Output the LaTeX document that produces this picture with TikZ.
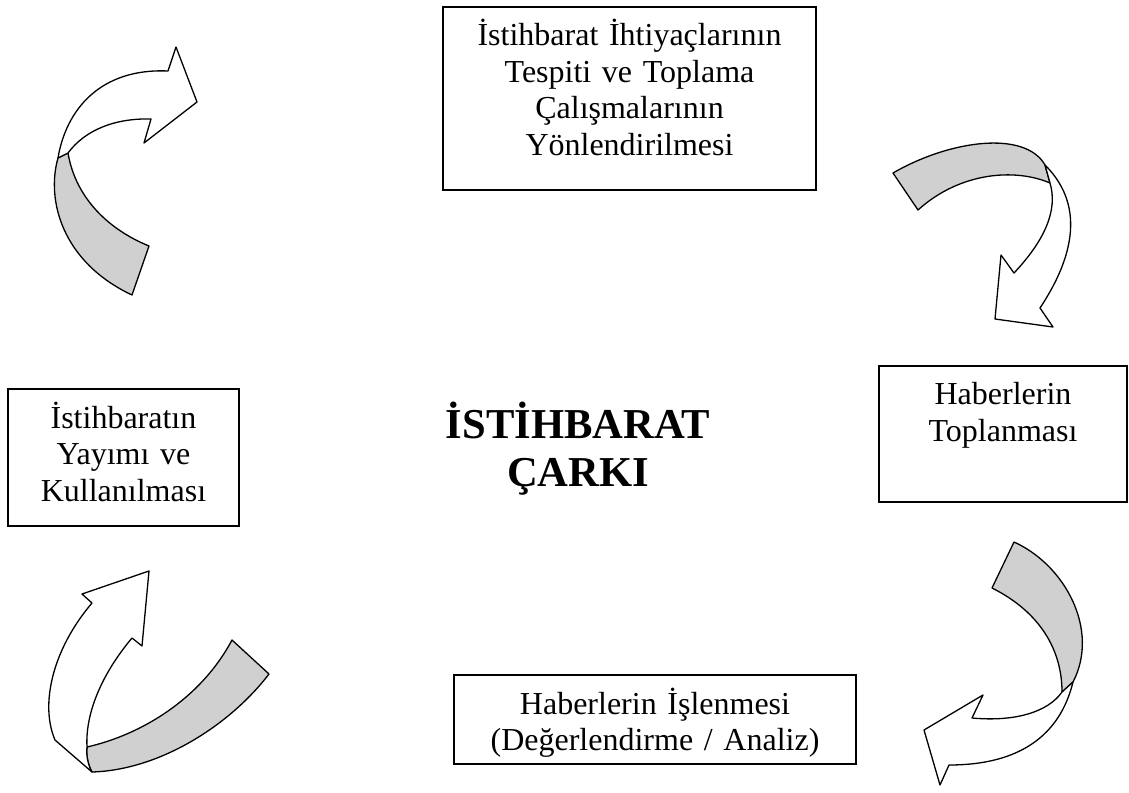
\documentclass[tikz,border=0pt]{standalone}
\usepackage{fontspec}
\setmainfont{Liberation Serif}
\usepackage{tikz}
\usetikzlibrary{positioning}
\definecolor{ribbon}{RGB}{208,208,208}

\begin{document}
\begin{tikzpicture}[x = 1pt, y = -1pt,
		box/.style = {draw, line width = 1.8pt, inner sep = 0pt},
		lbl/.style = {text width = 420pt, align = center, inner sep = 0pt, font = {\fontsize{32}{36.6}\selectfont}},
		title/.style = {text width = 320pt, align = center, inner sep = 0pt, font = {\fontsize{42.6}{48.5}\selectfont\bfseries}},
		back/.style = {draw, line width = 1.3pt, fill = ribbon, line join = round},
		front/.style = {draw, line width = 1.3pt, fill = white, line join = round}]
		\useasboundingbox (0, 0) rectangle (1129, 792);
		\node[box, minimum width = 373pt, minimum height = 183pt] (plan) at (629.5, 98.5) {};
			\node[lbl, anchor = base] (plantext) at ([yshift = -39.5pt]plan.north) {İstihbarat İhtiyaçlarının\\Tespiti ve Toplama\\Çalışmalarının\\Yönlendirilmesi};
		\node[box, minimum width = 248pt, minimum height = 136pt] (collect) at (1003, 434) {};
			\node[lbl, anchor = base] (collecttext) at ([yshift = -39.5pt]collect.north) {Haberlerin\\Toplanması};
		\node[box, minimum width = 402pt, minimum height = 89pt] (process) at (655, 719.5) {};
			\node[lbl, anchor = base] (processtext) at ([yshift = -40pt]process.north) {Haberlerin İşlenmesi\\(Değerlendirme / Analiz)};
		\node[box, minimum width = 231pt, minimum height = 137pt] (spread) at (123.5, 457.5) {};
			\node[lbl, anchor = base] (spreadtext) at ([yshift = -40pt]spread.north) {İstihbaratın\\Yayımı ve\\Kullanılması};
		\node[title, anchor = base] (wheel) at (578, 438) {İSTİHBARAT\\ÇARKI};
		\draw[back] (58, 158) .. controls (46, 200) and (62, 262) .. (132, 295) -- (149, 246) .. controls (105, 228) and (75, 195) .. (68, 153) -- cycle;
		\draw[front] (58, 158) .. controls (66, 110) and (100, 68) .. (168, 71) -- (176, 47) -- (197, 102) -- (144, 143) -- (151, 119) .. controls (115, 118) and (85, 130) .. (68, 153) -- cycle;
		\draw[back] (893, 173) .. controls (950, 140) and (1025, 130) .. (1045, 165) -- (1050, 183) .. controls (1015, 168) and (960, 172) .. (918, 210) -- cycle;
		\draw[front] (1045, 165) .. controls (1075, 195) and (1085, 240) .. (1040, 308) -- (1053, 327) -- (995, 319) -- (1001, 255) -- (1014, 273) .. controls (1045, 240) and (1058, 210) .. (1050, 183) -- cycle;
		\draw[back] (1014, 542) .. controls (1065, 565) and (1100, 630) .. (1073, 682) -- (1062, 692) .. controls (1062, 650) and (1040, 612) .. (992, 588) -- cycle;
		\draw[front] (1073, 682) .. controls (1060, 735) and (1020, 765) .. (949, 765) -- (940, 785) -- (924, 730) -- (983, 695) -- (972, 718) .. controls (1015, 722) and (1048, 712) .. (1062, 692) -- cycle;
		\draw[back] (87, 747) .. controls (140, 735) and (200, 700) .. (232, 640) -- (269, 674) .. controls (230, 725) and (160, 770) .. (92, 772) .. controls (88, 765) and (86, 755) .. (87, 747) -- cycle;
		\draw[front] (92, 772) -- (55, 740) .. controls (40, 705) and (52, 650) .. (92, 603) -- (82, 594) -- (149, 571) -- (142, 646) -- (132, 638) .. controls (105, 670) and (85, 710) .. (87, 747) .. controls (86, 755) and (88, 765) .. (92, 772) -- cycle;
	\end{tikzpicture}
\end{document}
